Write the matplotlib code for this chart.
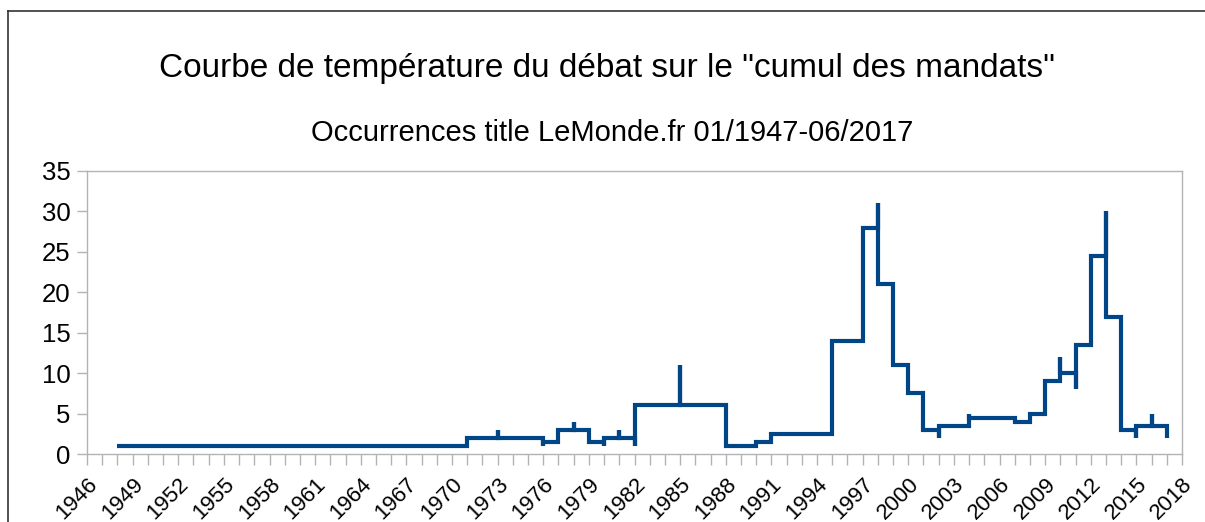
import matplotlib
matplotlib.use("Agg")
import matplotlib.pyplot as plt
from matplotlib.lines import Line2D
from matplotlib.ticker import FixedLocator, MultipleLocator

plt.rcParams['font.family'] = ['Liberation Sans', 'DejaVu Sans']

# yearly counts (years where the curve changes)
years = [1948, 1971, 1973, 1976, 1977, 1978, 1979, 1980, 1981, 1982, 1985,
         1988, 1990, 1991, 1995, 1997, 1998, 1999, 2000, 2001, 2002, 2004,
         2007, 2008, 2009, 2010, 2011, 2012, 2013, 2014, 2015, 2016, 2017]
counts = [1, 1, 3, 1, 2, 4, 2, 1, 3, 1, 11,
          1, 1, 2, 3, 25, 31, 11, 11, 4, 2, 5,
          4, 4, 6, 12, 8, 19, 30, 4, 2, 5, 2]

tick_years = list(range(1946, 2019, 3))

title = 'Courbe de température du débat sur le "cumul des mandats"'
subtitle = "Occurrences title LeMonde.fr 01/1947-06/2017"

line_color = "#004586"
grey = "#b3b3b3"


def center_y_steps(xs, ys):
    # step line with the horizontal parts at the mean of two neighbours
    px, py = [], []
    for i in range(len(xs) - 1):
        mid = (ys[i] + ys[i + 1]) / 2
        px += [xs[i], xs[i], xs[i + 1]]
        py += [ys[i], mid, mid]
    px.append(xs[-1])
    py.append(ys[-1])
    return px, py


fig = plt.figure(figsize=(12.05, 5.22), dpi=100)
ax = fig.add_axes([87 / 1205, 1 - 454 / 522, (1182 - 87) / 1205, (454 - 171) / 522])

sx, sy = center_y_steps(years, counts)
ax.plot(sx, sy, color=line_color, linewidth=3, solid_joinstyle="miter",
        solid_capstyle="butt")

ax.set_xlim(1946, 2018)
ax.set_ylim(0, 35)
ax.xaxis.set_major_locator(FixedLocator(tick_years))
ax.xaxis.set_minor_locator(MultipleLocator(1))
ax.yaxis.set_major_locator(MultipleLocator(5))

for s in ax.spines.values():
    s.set_color(grey)
    s.set_linewidth(1.0)

ax.tick_params(axis="x", which="both", length=8, width=1, color=grey,
               labelsize=16, pad=6)
ax.tick_params(axis="y", length=7, width=1, color=grey, labelsize=18.5, pad=5)
for lab in ax.get_xticklabels():
    lab.set_rotation(45)
    lab.set_ha("right")
    lab.set_rotation_mode("anchor")

fig.text(0.504, 0.868, title, ha="center", va="center", fontsize=24)
fig.text(0.508, 0.745, subtitle, ha="center", va="center", fontsize=21)

# outer frame of the chart object
fig.add_artist(Line2D([8 / 1205, 8 / 1205], [0, 1 - 11 / 522],
                      transform=fig.transFigure, color="#333333", linewidth=1.2))
fig.add_artist(Line2D([8 / 1205, 1], [1 - 11 / 522, 1 - 11 / 522],
                      transform=fig.transFigure, color="#333333", linewidth=1.2))

fig.savefig("out.png", dpi=100)
